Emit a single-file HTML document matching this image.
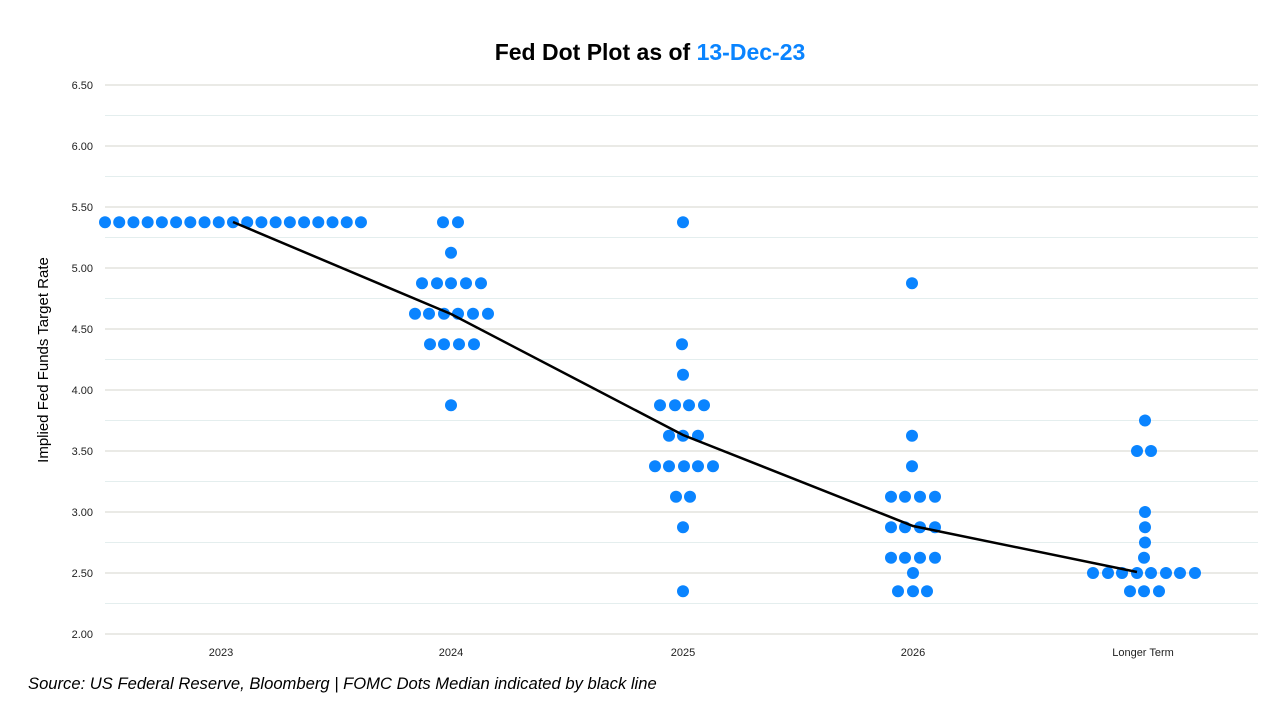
<!DOCTYPE html>
<html><head><meta charset="utf-8"><style>
body{margin:0;background:#fff;width:1280px;height:720px;overflow:hidden;font-family:"Liberation Sans",sans-serif}
</style></head><body>
<svg width="1280" height="720" xmlns="http://www.w3.org/2000/svg" font-family="Liberation Sans, sans-serif">
<text x="650" y="60" text-anchor="middle" font-size="23" font-weight="bold" fill="#000">Fed Dot Plot as of <tspan fill="#0a84ff">13-Dec-23</tspan></text>
<g id="grid"></g>
<g font-size="11" fill="#222" text-anchor="end" id="ylab"></g>
<g font-size="11" fill="#222" text-anchor="middle">
<text x="221" y="656">2023</text><text x="451" y="656">2024</text><text x="683" y="656">2025</text><text x="913" y="656">2026</text><text x="1143" y="656">Longer Term</text>
</g>
<text transform="translate(48,360) rotate(-90)" text-anchor="middle" font-size="15" fill="#000">Implied Fed Funds Target Rate</text>
<text x="28" y="689" font-size="16.6" font-style="italic" fill="#000">Source: US Federal Reserve, Bloomberg | FOMC Dots Median indicated by black line</text>
<g id="dots" fill="#0a84ff"></g>
<polyline points="233,222 451,314 683,435 913,526 1137,572" fill="none" stroke="#000" stroke-width="2.5"/>
</svg>
<script>
var ns="http://www.w3.org/2000/svg";
function Y(v){return 634-(v-2)*122;}
var g=document.getElementById('grid'),yl=document.getElementById('ylab');
for(var i=0;i<=18;i++){var v=2+i*0.25,y=Y(v);var l=document.createElementNS(ns,'line');
l.setAttribute('x1',105);l.setAttribute('x2',1258);l.setAttribute('y1',y);l.setAttribute('y2',y);
l.setAttribute('stroke',i%2?'#e4eeee':'#d6d6cc');l.setAttribute('stroke-width',1);g.appendChild(l);
if(i%2==0){var t=document.createElementNS(ns,'text');t.setAttribute('x',93);t.setAttribute('y',y+4);t.textContent=v.toFixed(2);yl.appendChild(t);}}
var D=[];
for(var k=0;k<19;k++)D.push([105+k*14.22,5.375]);
[[443,5.375],[458,5.375],[451,5.125],[422,4.875],[437,4.875],[451,4.875],[466,4.875],[481,4.875],
[415,4.625],[429,4.625],[444,4.625],[458,4.625],[473,4.625],[488,4.625],[430,4.375],[444,4.375],[459,4.375],[474,4.375],[451,3.875],
[683,5.375],[682,4.375],[683,4.125],[660,3.875],[675,3.875],[689,3.875],[704,3.875],[669,3.625],[683,3.625],[698,3.625],
[655,3.375],[669,3.375],[684,3.375],[698,3.375],[713,3.375],[676,3.125],[690,3.125],[683,2.875],[683,2.35],
[912,4.875],[912,3.625],[912,3.375],[913,2.5],[898,2.35],[913,2.35],[927,2.35],
[1145,3.75],[1137,3.5],[1151,3.5],[1145,3.0],[1145,2.875],[1145,2.75],[1144,2.625],[1130,2.35],[1144,2.35],[1159,2.35]
].forEach(function(d){D.push(d)});
[3.125,2.875,2.625].forEach(function(v){[891,905,920,935].forEach(function(x){D.push([x,v])})});
[1093,1108,1122,1137,1151,1166,1180,1195].forEach(function(x){D.push([x,2.5])});
var dg=document.getElementById('dots');
D.forEach(function(d){var c=document.createElementNS(ns,'circle');c.setAttribute('cx',d[0]);c.setAttribute('cy',Y(d[1]));c.setAttribute('r',6);dg.appendChild(c);});
</script>
</body></html>
